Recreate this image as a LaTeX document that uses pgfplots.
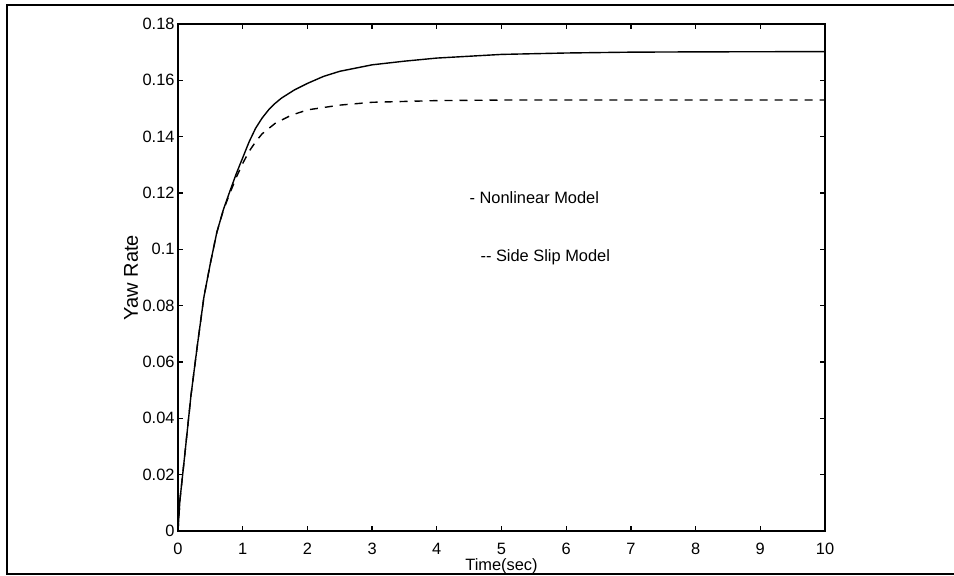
\documentclass[border=0pt]{standalone}
\usepackage{fontspec}
\setmainfont{Liberation Sans}
\usepackage{pgfplots}
\pgfplotsset{compat=1.18}
\begin{document}
\begin{tikzpicture}
\useasboundingbox (-89pt,-22.5pt) rectangle (388pt,265.5pt);
\begin{axis}[
  at={(0pt,0pt)}, anchor=south west,
  scale only axis, width=323.5pt, height=253.5pt,
  xmin=0, xmax=10, ymin=0, ymax=0.18,
  xtick={0,1,...,10},
  ytick={0,0.02,0.04,0.06,0.08,0.1,0.12,0.14,0.16,0.18},
  scaled y ticks=false,
  yticklabel style={/pgf/number format/fixed, /pgf/number format/precision=2, xshift=1.8pt},
  /pgf/number format/assume math mode=true,
  tick label style={font=\fontsize{8.2}{10}\selectfont},
  xticklabel style={yshift=-2.7pt},
  label style={font=\fontsize{8.2}{10}\selectfont},
  xlabel={Time(sec)},
  xlabel style={yshift=5pt},
  ylabel={Yaw Rate},
  every axis y label/.style={at={(axis description cs:0,0.5)}, xshift=-23.5pt, rotate=90, anchor=center},
  major tick length=2.5pt,
  tick style={black, line width=0.6pt},
  axis line style={line width=0.8pt},
  clip=true,
]
\addplot[black, line width=0.7pt] coordinates {
(0,0) (0.03,0.011) (0.1,0.026) (0.2,0.048) (0.3,0.066) (0.4,0.083) (0.5,0.095)
(0.6,0.106) (0.7,0.114) (0.8,0.1205) (0.9,0.1268) (1.0,0.1325) (1.1,0.1382) (1.2,0.1430)
(1.3,0.1466) (1.4,0.1495) (1.5,0.1518) (1.6,0.1537) (1.8,0.1566) (2.0,0.1589) (2.25,0.1614) (2.5,0.1632)
(3.0,0.1655) (3.5,0.1668) (4,0.1679) (5,0.1692) (6,0.1697) (7,0.1700) (8,0.1701) (10,0.1702)
};
\addplot[black, line width=0.7pt, dash pattern=on 4pt off 3.5pt] coordinates {
(0,0) (0.03,0.011) (0.1,0.026) (0.2,0.048) (0.3,0.066) (0.4,0.083) (0.5,0.095)
(0.6,0.106) (0.7,0.1138) (0.8,0.1198) (0.9,0.1255) (1.0,0.1305) (1.1,0.1348) (1.2,0.1382)
(1.3,0.1410) (1.5,0.1447) (1.75,0.1476) (2.0,0.1495) (2.5,0.1512) (3.0,0.1522)
(4,0.1528) (5,0.1530) (10,0.1530)
};
\node[anchor=west, inner sep=0pt, font=\fontsize{8.2}{10}\selectfont] at (axis cs:4.50,0.1182) {- Nonlinear Model};
\node[anchor=west, inner sep=0pt, font=\fontsize{8.2}{10}\selectfont] at (axis cs:4.67,0.0973) {-{}- Side Slip Model};
\end{axis}
\draw[line width=1.3pt] (390pt,263pt) -- (-85.5pt,263pt) -- (-85.5pt,-21.5pt) -- (390pt,-21.5pt);
\end{tikzpicture}
\end{document}
